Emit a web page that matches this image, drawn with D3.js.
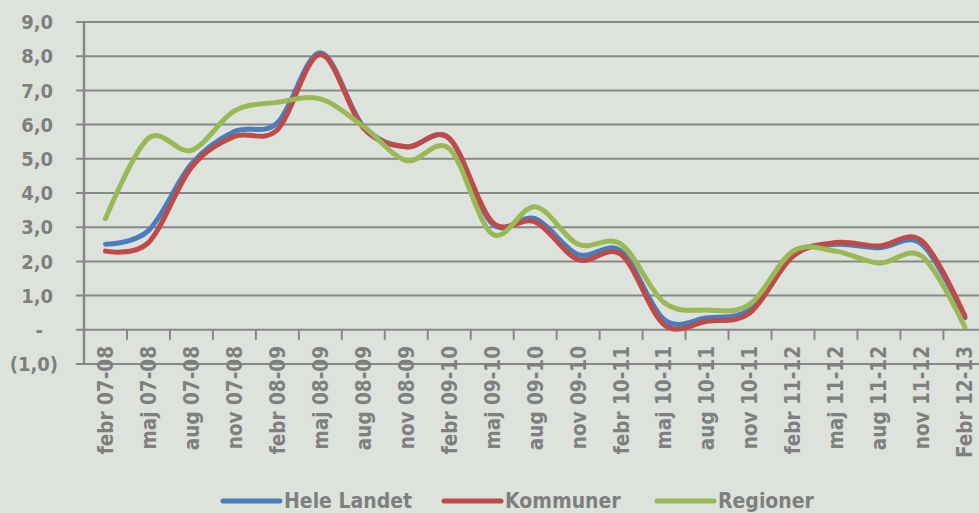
<!DOCTYPE html>
<html>
<head>
<meta charset="utf-8">
<script src="https://cdn.jsdelivr.net/npm/d3@7"></script>
<style>
	html, body { margin: 0; padding: 0; background: #dee2dd; }
	svg { display: block; }
	text { font-family: "DejaVu Sans Condensed", "DejaVu Sans", sans-serif; font-weight: bold; fill: #7f7f7f; }
</style>
</head>
<body>
<svg id="chart"></svg>
<script>
// categories (quarters) and the three series
const categories = ["febr 07-08", "maj 07-08", "aug 07-08", "nov 07-08", "febr 08-09", "maj 08-09", "aug 08-09",
	"nov 08-09", "febr 09-10", "maj 09-10", "aug 09-10", "nov 09-10", "febr 10-11", "maj 10-11", "aug 10-11",
	"nov 10-11", "febr 11-12", "maj 11-12", "aug 11-12", "nov 11-12", "Febr 12-13"];
const heleLandet = [2.5, 2.9, 4.85, 5.8, 6.05, 8.1, 5.95, 5.35, 5.6, 3.1, 3.25, 2.2, 2.3, 0.3, 0.35, 0.6, 2.2, 2.5, 2.4, 2.5, 0.35];
const kommuner = [2.3, 2.55, 4.75, 5.65, 5.85, 8.05, 5.9, 5.35, 5.6, 3.15, 3.15, 2.05, 2.2, 0.15, 0.25, 0.5, 2.15, 2.55, 2.45, 2.6, 0.4];
const regioner = [3.25, 5.6, 5.25, 6.4, 6.65, 6.75, 5.95, 4.95, 5.3, 2.8, 3.6, 2.5, 2.5, 0.8, 0.58, 0.75, 2.3, 2.3, 1.95, 2.15, 0.08];
const yTicks = [-1, 0, 1, 2, 3, 4, 5, 6, 7, 8, 9];
const seriesNames = ["Hele Landet", "Kommuner", "Regioner"];

const W = 979, H = 513;
const colors = ["#4a7ebb", "#be4b48", "#98b954"];
const gridColor = "#878787";

// plot runs off the right edge in the original, so the band is wider than the window
const left = 84, band = 42.97;
const x = d3.scaleBand().domain(categories).range([left, left + band * categories.length]).padding(0);
const y = d3.scaleLinear().domain([-1, 9]).range([364, 22]);

// 0 shows as "-", negatives in parentheses, comma decimals (accounting style)
const fmtTick = function(v) {
	if (v === 0) return "-";
	var s = Math.abs(v).toFixed(1).replace(".", ",");
	return v < 0 ? "(" + s + ")" : s;
};
// accounting format leaves room for ")" on positives, and puts "-" further in
const tickLabelX = v => v < 0 ? 58 : (v === 0 ? 43 : 53);

const svg = d3.select("#chart").attr("width", W).attr("height", H);

// horizontal grid
svg.append("g").selectAll("line").data(yTicks).join("line")
	.attr("x1", left - 8).attr("x2", W)
	.attr("y1", d => y(d)).attr("y2", d => y(d))
	.attr("stroke", gridColor).attr("stroke-width", 2);

// y axis line
svg.append("line")
	.attr("x1", left).attr("x2", left)
	.attr("y1", y(9)).attr("y2", y(-1))
	.attr("stroke", gridColor).attr("stroke-width", 2.5);

// small ticks between categories, hanging below the zero line
svg.append("g").selectAll("line").data(categories.slice(1)).join("line")
	.attr("x1", d => x(d)).attr("x2", d => x(d))
	.attr("y1", y(0)).attr("y2", y(0) + 10)
	.attr("stroke", gridColor).attr("stroke-width", 2);

// y labels
svg.append("g").selectAll("text").data(yTicks).join("text")
	.attr("x", tickLabelX).attr("y", d => y(d))
	.attr("dy", "0.36em")
	.attr("text-anchor", "end")
	.style("font-size", "20px")
	.text(fmtTick);

// x labels, rotated
svg.append("g").selectAll("text").data(categories).join("text")
	.attr("transform", d => "translate(" + (x(d) + band / 2) + ",346) rotate(-90)")
	.attr("dy", "0.36em")
	.attr("text-anchor", "end")
	.style("font-size", "20.5px")
	.text(d => d);

// series
const line = d3.line()
	.x((d, i) => x(categories[i]) + band / 2)
	.y(d => y(d))
	.curve(d3.curveCatmullRom.alpha(0));

[heleLandet, kommuner, regioner].forEach((vals, i) => {
	svg.append("path")
		.datum(vals)
		.attr("d", line)
		.attr("fill", "none")
		.attr("stroke", colors[i])
		.attr("stroke-width", 5)
		.attr("stroke-linecap", "round")
		.attr("stroke-linejoin", "round");
});

// legend
const legendX = [223, 444, 657];
const legend = svg.append("g");
seriesNames.forEach((name, i) => {
	legend.append("line")
		.attr("x1", legendX[i]).attr("x2", legendX[i] + 57)
		.attr("y1", 501).attr("y2", 501)
		.attr("stroke", colors[i]).attr("stroke-width", 5)
		.attr("stroke-linecap", "round");
	legend.append("text")
		.attr("x", legendX[i] + 61).attr("y", 508)
		.style("font-size", "21px")
		.text(name);
});
</script>
</body>
</html>
